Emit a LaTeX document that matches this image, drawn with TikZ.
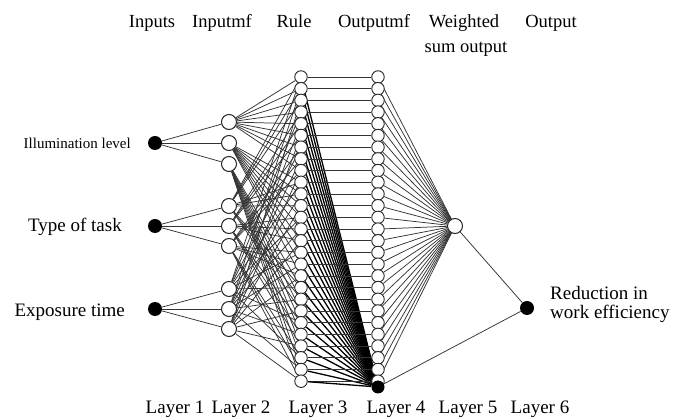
\documentclass[tikz,border=0pt]{standalone}
\usepackage{fontspec}
\setmainfont{Liberation Serif}
\usetikzlibrary{backgrounds}
\begin{document}
\begin{tikzpicture}[x=1pt,y=-1pt,
  inpnode/.style={circle,fill=black,inner sep=0pt,minimum size=14pt},
  mfnode/.style={circle,draw=black!85,fill=white,line width=1pt,inner sep=0pt,minimum size=15pt},
  rulenode/.style={circle,draw=black!85,fill=white,line width=0.9pt,inner sep=0pt,minimum size=12.5pt},
  link/.style={draw=black!80,line width=0.75pt},
  darklink/.style={draw=black,line width=1.3pt},
  lbl/.style={font=\fontsize{19}{21}\selectfont,inner sep=0pt},
  smalllbl/.style={font=\fontsize{15}{17}\selectfont,inner sep=0pt},
  toplbl/.style={font=\fontsize{18.5}{20}\selectfont,inner sep=0pt}]
\useasboundingbox (0,0) rectangle (675,419);
% layer 1
\foreach \k/\y in {1/143,2/226,3/309} \node[inpnode] (in\k) at (155,\y) {};
% layer 2
\foreach \k/\y in {1/122,2/143,3/164,4/206,5/226,6/246,7/289,8/309,9/329} \node[mfnode] (mf\k) at (229,\y) {};
% layers 3 and 4
\foreach \r in {0,...,26} {
  \node[rulenode] (r\r) at (301,{77+11.7*\r}) {};
  \node[rulenode] (o\r) at (378,{77+11.7*\r}) {};
}
\node[inpnode,minimum size=13pt] (bt) at (378,387) {};
% layer 5 and 6
\node[mfnode] (w) at (455,226) {};
\node[inpnode,minimum size=14pt] (out) at (527,308) {};
% connectors
\begin{pgfonlayer}{background}
\foreach \k in {1,2,3} \foreach \j in {1,2,3} {
  \pgfmathtruncatemacro\m{3*(\k-1)+\j}
  \draw[link] (in\k) -- (mf\m);
}
\foreach \r in {0,...,26} {
  \pgfmathtruncatemacro\a{div(\r,9)+1}
  \pgfmathtruncatemacro\b{mod(div(\r,3),3)+4}
  \pgfmathtruncatemacro\c{mod(\r,3)+7}
  \draw[link] (mf\a) -- (r\r);
  \draw[link] (mf\b) -- (r\r);
  \draw[link] (mf\c) -- (r\r);
  \draw[link] (r\r) -- (o\r);
  \draw[darklink] (r\r) -- (bt);
  \draw[link] (o\r) -- (w);
}
\draw[link] (w) -- (out);
\draw[link] (bt) -- (out);
\end{pgfonlayer}
% labels
\node[toplbl,anchor=base] (tl1) at (152,28) {Inputs};
\node[toplbl,anchor=base] (tl2) at (222,28) {Inputmf};
\node[toplbl,anchor=base] (tl3) at (294,28) {Rule};
\node[toplbl,anchor=base] (tl4) at (374,28) {Outputmf};
\node[toplbl,anchor=base] (tl5) at (464,28) {Weighted};
\node[toplbl,anchor=base] (tl5b) at (466,53) {sum output};
\node[toplbl,anchor=base] (tl6) at (551,28) {Output};
\node[smalllbl,anchor=east] (lab1) at (131,143) {Illumination level};
\node[lbl,anchor=east] (lab2) at (122,227) {Type of task};
\node[lbl,anchor=east] (lab3) at (125,312) {Exposure time};
\node[lbl,anchor=west] (lab4) at (550,293) {Reduction in};
\node[lbl,anchor=west] (lab5) at (550,314) {work efficiency};
\foreach \i/\x in {1/175,2/241,3/318,4/396,5/468,6/540}
  \node[lbl,anchor=base] (ly\i) at (\x,414) {Layer \i};
\end{tikzpicture}
\end{document}
